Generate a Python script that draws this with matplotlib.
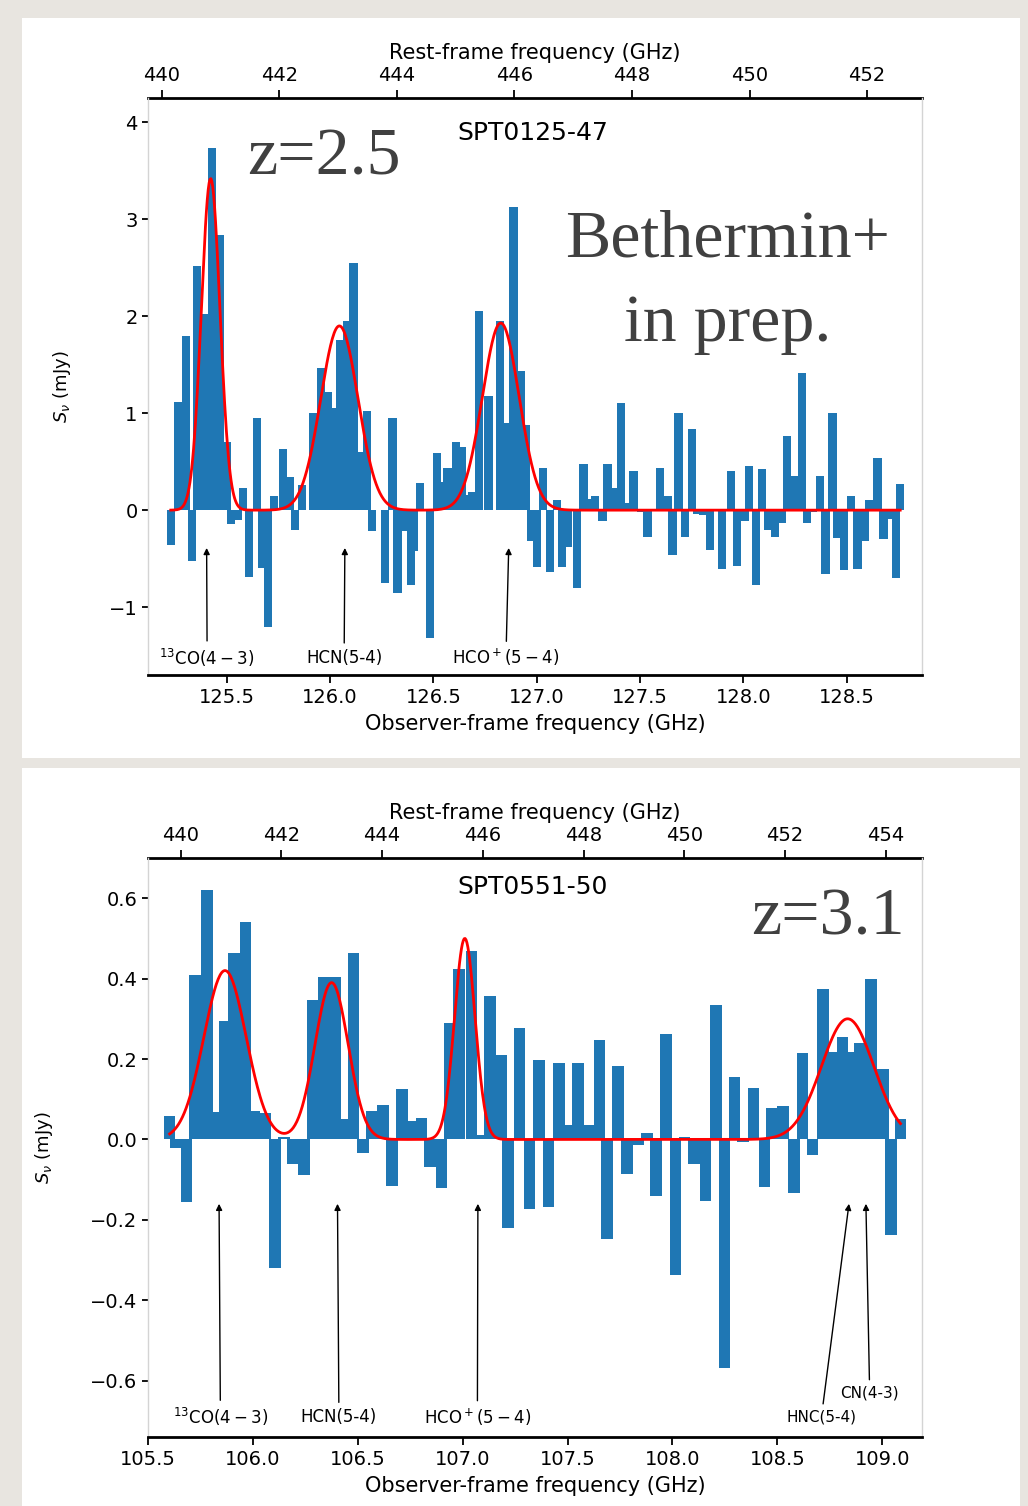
import matplotlib
matplotlib.use("Agg")
import matplotlib.pyplot as plt
from matplotlib.patches import Rectangle
import numpy as np

# SPT0125-47 : channels (observed GHz) and flux density (mJy)
top_freq = [125.229, 125.263, 125.301, 125.331, 125.356, 125.392, 125.430, 125.468,
            125.500, 125.521, 125.556, 125.580, 125.609, 125.645, 125.669, 125.701,
            125.729, 125.771, 125.806, 125.831, 125.863, 125.919, 125.955, 125.987,
            126.016, 126.048, 126.081, 126.113, 126.137, 126.178, 126.202, 126.266,
            126.302, 126.326, 126.355, 126.391, 126.407, 126.436, 126.484, 126.519,
            126.541, 126.568, 126.608, 126.640, 126.665, 126.689, 126.721, 126.766,
            126.821, 126.855, 126.887, 126.923, 126.947, 126.971, 127.003, 127.032,
            127.065, 127.097, 127.121, 127.153, 127.194, 127.226, 127.258, 127.283,
            127.318, 127.342, 127.375, 127.407, 127.436, 127.468, 127.504, 127.536,
            127.597, 127.633, 127.657, 127.686, 127.718, 127.751, 127.775, 127.807,
            127.839, 127.896, 127.939, 127.968, 128.009, 128.028, 128.062, 128.090,
            128.121, 128.154, 128.186, 128.211, 128.242, 128.283, 128.307, 128.338,
            128.372, 128.397, 128.431, 128.453, 128.488, 128.520, 128.552, 128.590,
            128.609, 128.649, 128.678, 128.706, 128.738, 128.759]
top_flux = [-0.36, 1.12, 1.80, -0.52, 2.52, 2.02, 3.73, 2.84,
            0.70, -0.14, -0.10, 0.23, -0.69, 0.95, -0.60, -1.21,
            0.15, 0.63, 0.34, -0.20, 0.26, 1.00, 1.47, 1.22,
            1.05, 1.75, 1.95, 2.55, 0.60, 1.02, -0.22, -0.75,
            0.95, -0.85, -0.22, -0.77, -0.42, 0.28, -1.32, 0.59,
            0.29, 0.43, 0.70, 0.65, 0.16, 0.19, 2.05, 1.18,
            1.95, 0.90, 3.13, 1.43, 0.88, -0.32, -0.59, 0.43,
            -0.64, 0.10, -0.59, -0.38, -0.80, 0.48, 0.11, 0.15,
            -0.11, 0.48, 0.23, 1.11, 0.07, 0.40, -0.02, -0.28,
            0.43, 0.15, -0.46, 1.00, -0.28, 0.84, -0.04, -0.05,
            -0.41, -0.61, 0.40, -0.58, -0.11, 0.46, -0.77, 0.42,
            -0.20, -0.28, -0.13, 0.76, 0.35, 1.41, -0.13, -0.02,
            0.35, -0.66, 1.00, -0.29, -0.62, 0.15, -0.61, -0.32,
            0.10, 0.54, -0.30, -0.09, -0.70, 0.27]

# SPT0551-50
bot_freq = [105.603, 105.633, 105.684, 105.725, 105.781, 105.825, 105.865, 105.910,
            105.965, 106.005, 106.057, 106.105, 106.148, 106.192, 106.243, 106.284,
            106.338, 106.390, 106.435, 106.480, 106.524, 106.565, 106.619, 106.663,
            106.710, 106.763, 106.803, 106.843, 106.899, 106.940, 106.982, 107.041,
            107.081, 107.129, 107.186, 107.216, 107.271, 107.319, 107.363, 107.410,
            107.459, 107.505, 107.549, 107.599, 107.652, 107.687, 107.740, 107.784,
            107.838, 107.878, 107.922, 107.969, 108.014, 108.057, 108.103, 108.157,
            108.208, 108.248, 108.295, 108.335, 108.386, 108.438, 108.473, 108.527,
            108.578, 108.620, 108.668, 108.718, 108.763, 108.810, 108.852, 108.891,
            108.946, 109.003, 109.041, 109.087]
bot_flux = [0.058, -0.021, -0.155, 0.41, 0.62, 0.068, 0.295, 0.464,
            0.54, 0.07, 0.065, -0.32, 0.005, -0.062, -0.089, 0.348,
            0.403, 0.403, 0.05, 0.463, -0.034, 0.07, 0.085, -0.116,
            0.126, 0.045, 0.053, -0.068, -0.121, 0.29, 0.423, 0.469,
            0.011, 0.357, 0.211, -0.22, 0.276, -0.174, 0.197, -0.167,
            0.19, 0.037, 0.19, 0.037, 0.248, -0.248, 0.182, -0.087,
            -0.014, 0.015, -0.141, 0.263, -0.337, 0.005, -0.06, -0.152,
            0.334, -0.569, 0.156, -0.006, 0.129, -0.118, 0.077, 0.083,
            -0.133, 0.215, -0.039, 0.373, 0.218, 0.255, 0.218, 0.24,
            0.40, 0.174, -0.238, 0.05]

# gaussian fits (centre GHz, peak mJy, sigma GHz)
top_fit_center = [125.422, 126.045, 126.826]
top_fit_peak = [3.42, 1.90, 1.93]
top_fit_sigma = [0.045, 0.090, 0.089]

bot_fit_center = [105.867, 106.375, 107.010, 108.835]
bot_fit_peak = [0.42, 0.39, 0.50, 0.30]
bot_fit_sigma = [0.101, 0.079, 0.049, 0.125]

# rest frequencies of the lines (GHz)
lines_rest = {"13CO": 440.765, "HCN": 443.116, "HCO+": 445.903,
              "HNC": 453.270, "CN": 453.606}

top_onepz = 3.5148
bot_onepz = 4.1645

blue = "#1f77b4"


def model(freq, centers, peaks, sigmas):
    f = np.asarray(freq)
    m = np.zeros_like(f)
    for c, p, s in zip(centers, peaks, sigmas):
        m += p * np.exp(-0.5 * ((f - c) / s) ** 2)
    return m


def style(ax, onepz, rest_ticks, ylim, xlim):
    ax.set_xlim(xlim)
    ax.set_ylim(ylim)
    for side in ["left", "right"]:
        ax.spines[side].set_color("#d4d4d4")
        ax.spines[side].set_linewidth(1.0)
    ax.spines["bottom"].set_linewidth(2.0)
    ax.spines["top"].set_visible(False)
    ax.tick_params(axis="both", labelsize=14, length=6, width=1.3)
    ax.tick_params(axis="y", length=4)
    sec = ax.secondary_xaxis("top", functions=(lambda f: f * onepz, lambda r: r / onepz))
    sec.set_xticks(rest_ticks)
    sec.spines["top"].set_linewidth(2.0)
    sec.tick_params(labelsize=14, length=6, width=1.3)
    sec.set_xlabel("Rest-frame frequency (GHz)", fontsize=15, labelpad=5)
    ax.set_xlabel("Observer-frame frequency (GHz)", fontsize=15, labelpad=5)
    ax.set_ylabel(r"$S_\nu$ (mJy)", fontsize=13)
    return sec


def mark_line(ax, name, label, onepz, tip, text_xy, fs=12):
    f = lines_rest[name] / onepz
    ax.annotate(label, xy=(f, tip), xytext=text_xy, ha="center", va="center",
                fontsize=fs,
                arrowprops=dict(arrowstyle="-|>", color="k", lw=1.0,
                                mutation_scale=9, shrinkA=2, shrinkB=0))


def fit_curve(ax, freq, centers, peaks, sigmas):
    grid = np.linspace(min(freq), max(freq), 800)
    ax.plot(grid, model(grid, centers, peaks, sigmas), color="red", lw=2, zorder=3)


fig = plt.figure(figsize=(10.28, 15.06), dpi=100)
fig.patch.set_facecolor("#e8e5e0")
fig.patches.append(Rectangle((0.021, 0.497), 0.971, 0.491, transform=fig.transFigure,
                             facecolor="white", edgecolor="none", zorder=-5))
fig.patches.append(Rectangle((0.021, 0.0), 0.971, 0.49, transform=fig.transFigure,
                             facecolor="white", edgecolor="none", zorder=-5))

serif = dict(family="Liberation Serif", color="#404040", fontsize=49)

# ---- SPT0125-47 ----
ax1 = fig.add_axes([0.144, 0.5518, 0.753, 0.3831])
ax1.bar(top_freq, top_flux, width=0.040, color=blue, zorder=2)
fit_curve(ax1, top_freq, top_fit_center, top_fit_peak, top_fit_sigma)
style(ax1, top_onepz, np.arange(440, 453, 2), (-1.70, 4.25), (125.119, 128.865))
ax1.set_yticks([-1, 0, 1, 2, 3, 4])
ax1.set_xticks([125.5, 126.0, 126.5, 127.0, 127.5, 128.0, 128.5])
ax1.yaxis.set_label_coords(-0.097, 0.5)
ax1.text(0.497, 0.939, "SPT0125-47", transform=ax1.transAxes, ha="center",
         va="center", fontsize=18)
ax1.text(0.128, 0.896, "z=2.5", transform=ax1.transAxes, ha="left", va="center", **serif)
ax1.text(0.749, 0.754, "Bethermin+", transform=ax1.transAxes, ha="center",
         va="center", **serif)
ax1.text(0.749, 0.607, "in prep.", transform=ax1.transAxes, ha="center",
         va="center", **serif)
mark_line(ax1, "13CO", r"$^{13}$CO$(4-3)$", top_onepz, -0.39, (125.405, -1.52))
mark_line(ax1, "HCN", "HCN(5-4)", top_onepz, -0.39, (126.068, -1.52))
mark_line(ax1, "HCO+", r"HCO$^+(5-4)$", top_onepz, -0.39, (126.851, -1.52))

# ---- SPT0551-50 ----
ax2 = fig.add_axes([0.144, 0.0458, 0.753, 0.3845])
ax2.bar(bot_freq, bot_flux, width=0.055, color=blue, zorder=2)
fit_curve(ax2, bot_freq, bot_fit_center, bot_fit_peak, bot_fit_sigma)
style(ax2, bot_onepz, np.arange(440, 455, 2), (-0.74, 0.70), (105.5, 109.19))
ax2.set_yticks([-0.6, -0.4, -0.2, 0.0, 0.2, 0.4, 0.6])
ax2.set_xticks([105.5, 106.0, 106.5, 107.0, 107.5, 108.0, 108.5, 109.0])
ax2.yaxis.set_label_coords(-0.120, 0.5)
ax2.text(0.497, 0.95, "SPT0551-50", transform=ax2.transAxes, ha="center",
         va="center", fontsize=18)
ax2.text(0.878, 0.896, "z=3.1", transform=ax2.transAxes, ha="center", va="center", **serif)
mark_line(ax2, "13CO", r"$^{13}$CO$(4-3)$", bot_onepz, -0.16, (105.845, -0.69))
mark_line(ax2, "HCN", "HCN(5-4)", bot_onepz, -0.16, (106.41, -0.69))
mark_line(ax2, "HCO+", r"HCO$^+(5-4)$", bot_onepz, -0.16, (107.07, -0.69))
mark_line(ax2, "HNC", "HNC(5-4)", bot_onepz, -0.16, (108.71, -0.69), fs=11)
mark_line(ax2, "CN", "CN(4-3)", bot_onepz, -0.16, (108.94, -0.63), fs=11)

fig.savefig("out.png", dpi=100, facecolor=fig.get_facecolor())
